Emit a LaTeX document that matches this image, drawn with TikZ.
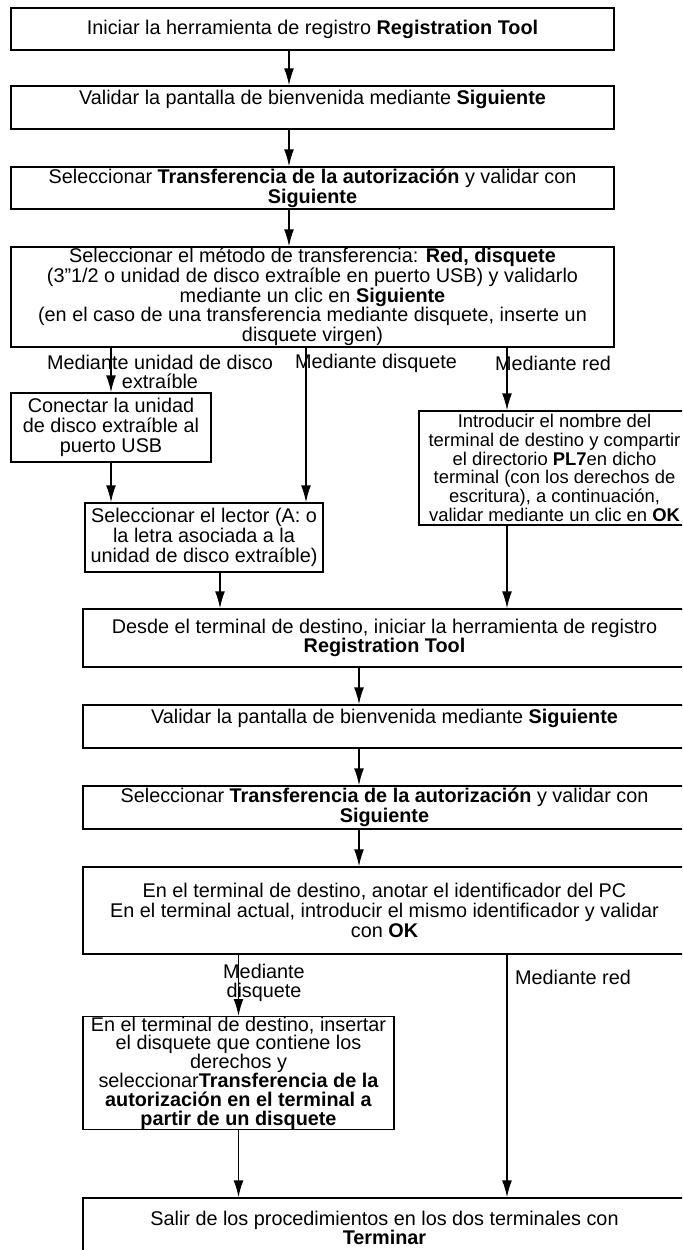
\documentclass[tikz,border=0pt]{standalone}
\usepackage{fontspec}
\setmainfont{Liberation Sans}
\usetikzlibrary{arrows.meta}

\begin{document}
\begin{tikzpicture}[
	box/.style={draw,line width=1pt,align=center,inner sep=0pt,minimum width=15.075cm,font=\fontsize{14.1}{14}\selectfont},
	lbl/.style={align=center,inner sep=0pt,font=\fontsize{14.1}{14}\selectfont},
	arr/.style={-{Latex[length=12pt,width=7pt]},line width=1pt}]
	\useasboundingbox (0,0) rectangle (17.05,-31.25);
	\clip (0,0) rectangle (17.05,-31.25);
	% columns of the arrows
	\coordinate (k1) at (7.225,0);
	\coordinate (k2) at (8.975,0);
	\coordinate (kB) at (7.65,0);
	\coordinate (kC) at (12.675,0);
	\coordinate (kD) at (5.5,0);

	\node[box,minimum height=1.05cm] at (7.8125,-0.725)(b1){Iniciar la herramienta de registro \textbf{Registration Tool}};
	\node[box,minimum height=1.075cm] at (7.8125,-2.6875)(b2){Validar la pantalla de bienvenida mediante \textbf{Siguiente}\\\mbox{}};
	\node[box,minimum height=1.05cm] at (7.8125,-4.7)(b3){Seleccionar \textbf{Transferencia de la autorización} y validar con\\\textbf{Siguiente}};
	\node[box,minimum height=2.5cm] at (7.8125,-7.425)(b4){Seleccionar el método de transferencia: \textbf{Red, disquete}\\(3”1/2 o unidad de disco extraíble en puerto USB) y validarlo\\mediante un clic en \textbf{Siguiente}\\(en el caso de una transferencia mediante disquete, inserte un\\disquete virgen)};
	\path[arr](b1.south-|k1)edge(b2.north-|k1)(b2.south-|k1)edge(b3.north-|k1)(b3.south-|k1)edge(b4.north-|k1);

	% three ways
	\node[box,minimum width=5cm,minimum height=1.725cm] at (2.775,-10.6875)(c1){Conectar la unidad\\de disco extraíble al\\puerto USB};
	\node[box,minimum width=5.95cm,minimum height=1.725cm] at (5.1,-13.4375)(c2){Seleccionar el lector (A: o\\la letra asociada a la\\unidad de disco extraíble)};
	\node[box,minimum width=6.775cm,minimum height=2.85cm,font=\fontsize{13.1}{13.3}\selectfont] at (13.8625,-11.7)(c3){Introducir el nombre del\\terminal de destino y compartir\\el directorio \textbf{PL7}en dicho\\terminal (con los derechos de\\escritura), a continuación,\\validar mediante un clic en \textbf{OK}};
	\node[lbl] at (4.0,-9.3)(l1){Mediante unidad de disco\\extraíble};
	\node[lbl] at (9.4,-9.075)(l2){Mediante disquete};
	\node[lbl] at (13.825,-9.075)(l3){Mediante red};
	\path[arr](b4.south-|c1.north)edge(c1.north)(c1.south-|c1.north)edge(c2.north-|c1.north)
		(b4.south-|kB)edge(c2.north-|kB)(b4.south-|kC)edge(c3.north-|kC);

	\node[box,minimum height=1.45cm] at (9.6125,-15.95)(b5){Desde el terminal de destino, iniciar la herramienta de registro\\\textbf{Registration Tool}};
	\path[arr](c2.south-|kD)edge(b5.north-|kD)(c3.south-|kC)edge(b5.north-|kC);

	\node[box,minimum height=1.075cm] at (9.6125,-18.1625)(b6){Validar la pantalla de bienvenida mediante \textbf{Siguiente}\\\mbox{}};
	\node[box,minimum height=1.075cm] at (9.6125,-20.1875)(b7){Seleccionar \textbf{Transferencia de la autorización} y validar con\\\textbf{Siguiente}};
	\node[box,minimum height=2.175cm] at (9.6125,-22.7625)(b8){En el terminal de destino, anotar el identificador del PC\\En el terminal actual, introducir el mismo identificador y validar\\con \textbf{OK}};
	\path[arr](b5.south-|k2)edge(b6.north-|k2)(b6.south-|k2)edge(b7.north-|k2)(b7.south-|k2)edge(b8.north-|k2);

	% two ways
	\node[box,minimum width=7.775cm,minimum height=2.8cm,font=\fontsize{14.1}{13.4}\selectfont] at (5.9625,-26.825)(d1){En el terminal de destino, insertar\\el disquete que contiene los\\derechos y\\seleccionar\textbf{Transferencia de la}\\\textbf{autorización en el terminal a}\\\textbf{partir de un disquete}};
	\node[lbl] at (6.6,-24.575)(l4){Mediante\\disquete};
	\node[lbl] at (14.325,-24.425)(l5){Mediante red};
	\node[box,minimum height=1.5cm] at (9.6125,-30.7)(b9){Salir de los procedimientos en los dos terminales con\\\textbf{Terminar}};
	\path[arr](b8.south-|d1.north)edge(d1.north)(d1.south)edge(b9.north-|d1.south)(b8.south-|kC)edge(b9.north-|kC);
\end{tikzpicture}
\end{document}
